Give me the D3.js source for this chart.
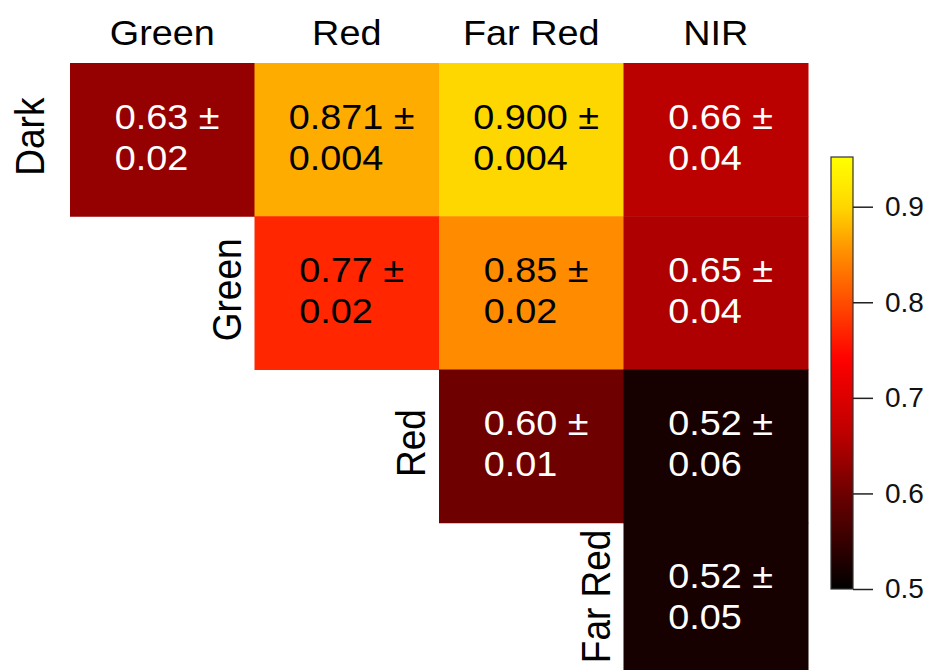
<!DOCTYPE html>
<html>
<head>
<meta charset="utf-8">
<script src="https://cdn.jsdelivr.net/npm/d3@7"></script>
<style>
  body { margin: 0; background: white; }
  text { font-family: "Liberation Sans", Arial, Helvetica, sans-serif; }
</style>
</head>
<body>
<script>
// labels
var colNames = ["Green", "Red", "Far Red", "NIR"];
var rowNames = ["Dark", "Green", "Red", "Far Red"];

// upper triangle cells
var cellRow  = [0, 0, 0, 0, 1, 1, 1, 2, 2, 3];
var cellCol  = [0, 1, 2, 3, 1, 2, 3, 2, 3, 3];
var cellMean = ["0.63", "0.871", "0.900", "0.66", "0.77", "0.85", "0.65", "0.60", "0.52", "0.52"];
var cellErr  = ["0.02", "0.004", "0.004", "0.04", "0.02", "0.02", "0.04", "0.01", "0.06", "0.05"];

// colour bar
var barTicks = [0.5, 0.6, 0.7, 0.8, 0.9];
var colorStops = [0.5, 0.6, 0.66, 0.74, 0.85, 0.9, 0.95];
var colorRange = ["#000000", "#6e0000", "#bb0000", "#ff0000", "#ff8c00", "#ffd700", "#ffff00"];

var width = 930, height = 670;
var stretch = 1.08;   // the original figure is a little wider than tall

var svg = d3.select("body")
    .append("svg")
    .attr("width", width)
    .attr("height", height);

var x = d3.scaleBand().domain(d3.range(colNames.length)).range([70, 808]);
var y = d3.scaleBand().domain(d3.range(rowNames.length)).range([63, 676]);
var color = d3.scaleLinear().domain(colorStops).range(colorRange).clamp(true);

var cells = cellRow.map(function(r, i) {
    return {row: r, col: cellCol[i], mean: cellMean[i], err: cellErr[i]};
});

// heat cells
svg.selectAll("rect.cell")
    .data(cells)
    .enter()
    .append("rect")
    .attr("class", "cell")
    .attr("x", function(d) { return x(d.col); })
    .attr("y", function(d) { return y(d.row); })
    .attr("width", x.bandwidth() + 0.5)
    .attr("height", y.bandwidth() + 0.5)
    .attr("fill", function(d) { return color(+d.mean); });

// cell text, two left aligned lines
var labels = svg.selectAll("g.lab")
    .data(cells)
    .enter()
    .append("g")
    .attr("class", "lab");

labels.each(function(d) {
    var g = d3.select(this);
    var cx = x(d.col) + x.bandwidth() / 2;
    var cy = y(d.row) + y.bandwidth() / 2;
    var fill = +d.mean < 0.7 ? "white" : "black";
    var t1 = g.append("text")
        .attr("font-size", 35)
        .attr("fill", fill)
        .text(d.mean + " \u00b1");
    var w1 = t1.node().getComputedTextLength() * stretch;
    var x0 = cx - w1 / 2 + 5;
    t1.attr("transform", "translate(" + x0 + "," + (cy - 11) + ") scale(" + stretch + ",1)");
    g.append("text")
        .attr("transform", "translate(" + x0 + "," + (cy + 30) + ") scale(" + stretch + ",1)")
        .attr("font-size", 35)
        .attr("fill", fill)
        .text(d.err);
});

// column headers
svg.selectAll("text.colname")
    .data(colNames)
    .enter()
    .append("text")
    .attr("class", "colname")
    .attr("transform", function(d, i) {
        return "translate(" + (x(i) + x.bandwidth() / 2) + ",45) scale(" + stretch + ",1)";
    })
    .attr("text-anchor", "middle")
    .attr("font-size", 35)
    .text(function(d) { return d; });

// row labels, rotated, left of the first cell in each row
svg.selectAll("text.rowname")
    .data(rowNames)
    .enter()
    .append("text")
    .attr("class", "rowname")
    .attr("text-anchor", "middle")
    .attr("font-size", 37)
    .attr("transform", function(d, i) {
        var gap = i == 0 ? 26 : 14;
        var lx = x(i) - gap;
        var ly = y(i) + y.bandwidth() / 2 - 3;
        return "translate(" + lx + "," + ly + ") scale(" + stretch + ",1) rotate(-90)";
    })
    .text(function(d) { return d; });

// colour bar
var barX = 831, barW = 22;
var barY = d3.scaleLinear().domain([0.5, 0.952]).range([589, 157]);

var grad = svg.append("defs")
    .append("linearGradient")
    .attr("id", "bar")
    .attr("x1", 0).attr("y1", 1)
    .attr("x2", 0).attr("y2", 0);
grad.selectAll("stop")
    .data(d3.range(0, 1.0001, 0.02))
    .enter()
    .append("stop")
    .attr("offset", function(t) { return t; })
    .attr("stop-color", function(t) { return color(0.5 + t * 0.452); });

svg.append("rect")
    .attr("x", barX)
    .attr("y", barY(0.952))
    .attr("width", barW)
    .attr("height", barY(0.5) - barY(0.952))
    .attr("fill", "url(#bar)")
    .attr("stroke", "#333")
    .attr("stroke-width", 1.2);

var axis = svg.append("g")
    .attr("transform", "translate(" + (barX + barW) + ",0)")
    .call(d3.axisRight(barY).tickValues(barTicks).tickSize(20).tickPadding(12).tickFormat(d3.format(".1f")));
axis.select(".domain").remove();
axis.selectAll(".tick line").attr("stroke", "#222").attr("stroke-width", 1.5);
axis.selectAll(".tick text")
    .attr("font-size", 28)
    .attr("fill", "#111")
    .style("font-family", "'Liberation Sans', Arial, Helvetica, sans-serif");
</script>
</body>
</html>
